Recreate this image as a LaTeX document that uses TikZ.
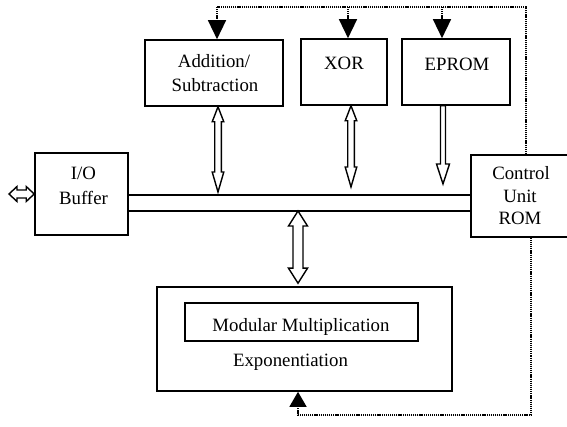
\documentclass[tikz,border=0pt]{standalone}
\usepackage{fontspec}
\setmainfont{Liberation Serif}
\usetikzlibrary{arrows.meta,calc}

\tikzset{
  unit/.style={draw, line width=1.6pt, inner sep=0pt},
  lbl/.style={anchor=base, inner sep=0pt, font=\fontsize{18.8}{23}\selectfont},
  busline/.style={line width=1.8pt},
  ctrlline/.style={line width=1.4pt, dash pattern=on 1.2pt off 0.9pt},
  ctrltip/.style={-{Triangle[width=18pt,length=19pt]}},
  hollow/.style={line width=1.4pt, line join=miter, fill=white},
}

% hollow double-headed vertical block arrow:
% #1 top tip, #2 bottom tip, #3 half shaft, #4 half head, #5 top head length, #6 bottom head length
\newcommand\vbiarrow[6]{%
  \draw[hollow] let \p1=#1, \p2=#2 in
    (\x1,\y1) -- (\x1+#4,\y1-#5) -- (\x1+#3,\y1-#5) -- (\x2+#3,\y2+#6) -- (\x2+#4,\y2+#6)
    -- (\x2,\y2) -- (\x2-#4,\y2+#6) -- (\x2-#3,\y2+#6) -- (\x1-#3,\y1-#5) -- (\x1-#4,\y1-#5) -- cycle;}
% hollow single-headed downward block arrow: #1 shaft top, #2 tip, #3 half shaft, #4 half head, #5 head length
\newcommand\vdnarrow[5]{%
  \draw[hollow] let \p1=#1, \p2=#2 in
    (\x1-#3,\y1) -- (\x1+#3,\y1) -- (\x2+#3,\y2+#5) -- (\x2+#4,\y2+#5) -- (\x2,\y2)
    -- (\x2-#4,\y2+#5) -- (\x2-#3,\y2+#5) -- cycle;}
% hollow double-headed horizontal block arrow: #1 left tip, #2 right tip, #3 half shaft, #4 half head, #5 head length
\newcommand\hbiarrow[5]{%
  \draw[hollow] let \p1=#1, \p2=#2 in
    (\x1,\y1) -- (\x1+#5,\y1+#4) -- (\x1+#5,\y1+#3) -- (\x2-#5,\y2+#3) -- (\x2-#5,\y2+#4)
    -- (\x2,\y2) -- (\x2-#5,\y2-#4) -- (\x2-#5,\y2-#3) -- (\x1+#5,\y1-#3) -- (\x1+#5,\y1-#4) -- cycle;}

\begin{document}
\begin{tikzpicture}[x=1pt,y=-1pt]
\useasboundingbox (0,0) rectangle (567,427);

% functional units
\node[unit, minimum width=138pt, minimum height=66pt] (add) at (214,73) {};
\node[unit, minimum width=86pt, minimum height=66pt] (xor) at (344,72) {};
\node[unit, minimum width=108pt, minimum height=66pt] (eprom) at (456,72) {};
\node[unit, minimum width=93pt, minimum height=82pt] (io) at (81.5,194) {};
\node[unit, minimum width=99pt, minimum height=82pt] (ctrl) at (520.5,196) {};
\node[unit, minimum width=295pt, minimum height=104pt] (expo) at (304.5,339) {};
\node[unit, minimum width=233pt, minimum height=38pt] (mm) at (301.5,322) {};

% labels
\node[lbl] (addA) at (214,68) {Addition/};
\node[lbl] (addB) at (215,92) {Subtraction};
\node[lbl] (xorT) at (344,70) {XOR};
\node[lbl] (epromT) at (457,71) {EPROM};
\node[lbl] (ioA) at (83.5,180) {I/O};
\node[lbl] (ioB) at (83.5,205) {Buffer};
\node[lbl] (ctrlA) at (521,180) {Control};
\node[lbl] (ctrlB) at (520,203) {Unit};
\node[lbl] (ctrlC) at (520,225) {ROM};
\node[lbl] (mmT) at (301,331) {Modular Multiplication};
\node[lbl] (expoT) at (290.5,366) {Exponentiation};

% data bus
\draw[busline] (io.east |- 0,195) -- (ctrl.west |- 0,195);
\draw[busline] (io.east |- 0,211) -- (ctrl.west |- 0,211);

% bus taps
\coordinate (tapAdd) at (218,192);
\coordinate (tapXor) at (351,187);
\coordinate (tapEprom) at (443,184);
\coordinate (tapExpo) at (298,211);
\coordinate (ext) at (9,194);

\vbiarrow{(add.south -| tapAdd)}{(tapAdd)}{3.3pt}{5.8pt}{15pt}{20pt}
\vbiarrow{(xor.south -| tapXor)}{(tapXor)}{3.3pt}{5.8pt}{15pt}{20pt}
\vdnarrow{(eprom.south -| tapEprom)}{(tapEprom)}{2.5pt}{6.5pt}{20pt}
\vbiarrow{(tapExpo)}{($(expo.north -| tapExpo)+(0,-3)$)}{5pt}{9.5pt}{15pt}{15pt}
\hbiarrow{(ext)}{(io.west |- ext)}{4pt}{7.5pt}{8pt}

% control lines from the control unit
\coordinate (ctlR) at (526,7);
\coordinate (ctlL) at (217,7);
\draw[ctrlline] (ctrl.north -| ctlR) -- (ctlR) -- (ctlL);
\draw[ctrlline, ctrltip] (ctlL) -- (add.north -| ctlL);
\draw[ctrlline, ctrltip] (348,7) -- (xor.north -| 348,0);
\draw[ctrlline, ctrltip] (442,7) -- (eprom.north -| 442,0);
\coordinate (ctlB) at (531,415);
\draw[ctrlline, -{Triangle[width=17pt,length=15pt]}] (ctrl.south -| ctlB) -- (ctlB) -- (298,415) -- (expo.south -| 298,0);
\end{tikzpicture}
\end{document}
